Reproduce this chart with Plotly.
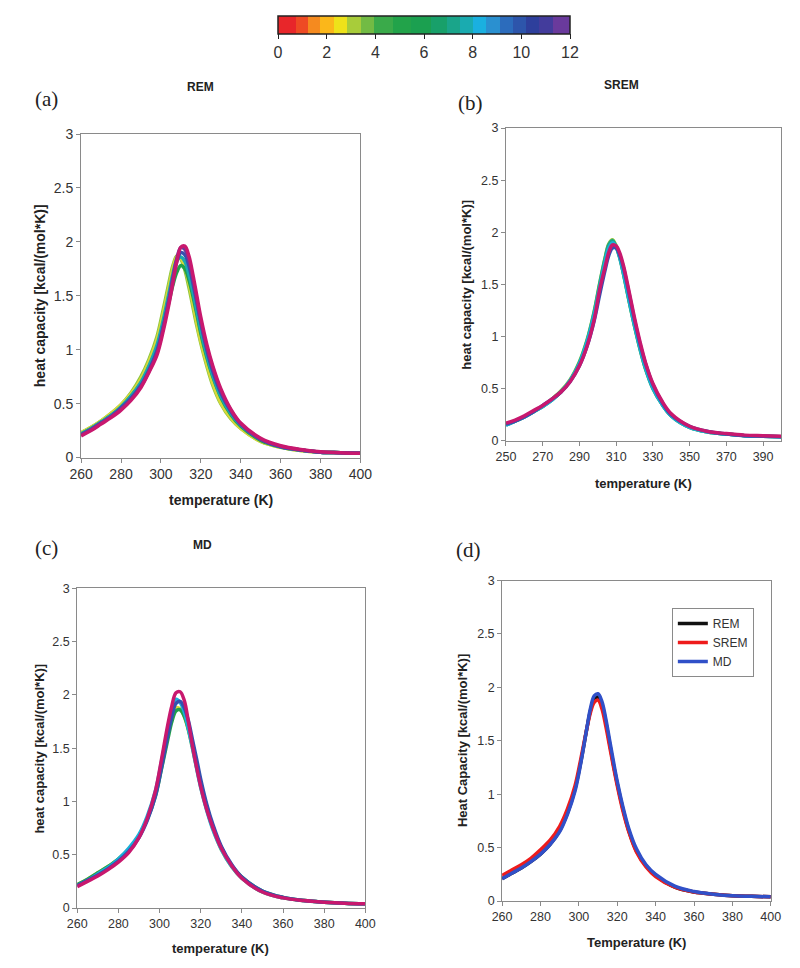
import plotly.graph_objects as go

W, H = 800, 968

# temperature grids (K)
t_grid = [260, 265, 270, 275, 280, 285, 290, 294, 298, 301, 304, 306, 308, 310, 312,
          314, 316, 318, 320, 323, 326, 330, 335, 340, 350, 360, 370, 380, 390, 400]
t_grid_b = [250, 255] + t_grid

# (a) REM replicas
rem_lightgreen = [0.23, 0.28, 0.34, 0.41, 0.49, 0.60, 0.75, 0.91, 1.12, 1.36, 1.62, 1.78, 1.87, 1.84, 1.74,
                  1.58, 1.40, 1.22, 1.06, 0.85, 0.67, 0.50, 0.36, 0.27, 0.15, 0.095, 0.065, 0.05, 0.045, 0.04]
rem_yellow = [0.23, 0.28, 0.34, 0.41, 0.49, 0.59, 0.73, 0.89, 1.09, 1.32, 1.58, 1.75, 1.86, 1.85, 1.77,
              1.62, 1.44, 1.25, 1.08, 0.87, 0.69, 0.51, 0.37, 0.27, 0.15, 0.095, 0.065, 0.05, 0.045, 0.04]
rem_green = [0.22, 0.27, 0.33, 0.39, 0.47, 0.57, 0.69, 0.84, 1.02, 1.22, 1.44, 1.60, 1.72, 1.78, 1.75,
             1.65, 1.50, 1.33, 1.15, 0.93, 0.75, 0.56, 0.40, 0.29, 0.16, 0.10, 0.07, 0.05, 0.045, 0.04]
rem_teal = [0.22, 0.27, 0.33, 0.39, 0.47, 0.57, 0.70, 0.85, 1.04, 1.26, 1.52, 1.70, 1.83, 1.86, 1.82,
            1.70, 1.54, 1.36, 1.18, 0.95, 0.76, 0.57, 0.41, 0.30, 0.17, 0.10, 0.07, 0.05, 0.045, 0.04]
rem_blue = [0.21, 0.26, 0.32, 0.38, 0.46, 0.55, 0.67, 0.81, 0.99, 1.20, 1.46, 1.66, 1.82, 1.90, 1.88,
            1.78, 1.62, 1.44, 1.25, 1.00, 0.80, 0.60, 0.43, 0.31, 0.17, 0.10, 0.07, 0.05, 0.045, 0.04]
rem_purple = [0.21, 0.26, 0.32, 0.38, 0.45, 0.54, 0.66, 0.80, 0.97, 1.19, 1.46, 1.66, 1.85, 1.95, 1.93,
              1.83, 1.66, 1.46, 1.26, 1.02, 0.83, 0.62, 0.44, 0.31, 0.17, 0.105, 0.07, 0.05, 0.045, 0.04]
rem_magenta = [0.20, 0.25, 0.31, 0.37, 0.44, 0.53, 0.65, 0.79, 0.95, 1.16, 1.42, 1.62, 1.82, 1.95, 1.96,
               1.87, 1.70, 1.50, 1.30, 1.05, 0.85, 0.64, 0.45, 0.32, 0.18, 0.11, 0.075, 0.055, 0.045, 0.04]

# (b) SREM replicas
srem_green = [0.16, 0.19, 0.23, 0.28, 0.33, 0.40, 0.48, 0.59, 0.76, 0.96, 1.24, 1.51, 1.76, 1.89, 1.93, 1.87,
              1.76, 1.60, 1.43, 1.26, 1.10, 0.88, 0.69, 0.51, 0.35, 0.24, 0.13, 0.085, 0.065, 0.05, 0.045, 0.04]
srem_teal = [0.15, 0.19, 0.23, 0.28, 0.33, 0.39, 0.47, 0.58, 0.75, 0.95, 1.23, 1.50, 1.75, 1.88, 1.92, 1.86,
             1.75, 1.60, 1.43, 1.26, 1.10, 0.88, 0.69, 0.50, 0.35, 0.24, 0.13, 0.085, 0.065, 0.05, 0.045, 0.04]
srem_cyan = [0.15, 0.19, 0.23, 0.28, 0.33, 0.39, 0.47, 0.58, 0.74, 0.94, 1.21, 1.47, 1.72, 1.85, 1.90, 1.86,
             1.76, 1.61, 1.44, 1.27, 1.11, 0.89, 0.70, 0.51, 0.35, 0.24, 0.13, 0.085, 0.065, 0.05, 0.045, 0.04]
srem_blue = [0.16, 0.19, 0.23, 0.28, 0.34, 0.40, 0.47, 0.57, 0.72, 0.90, 1.15, 1.40, 1.64, 1.78, 1.85, 1.85,
             1.78, 1.66, 1.50, 1.33, 1.16, 0.93, 0.74, 0.54, 0.37, 0.25, 0.14, 0.09, 0.065, 0.05, 0.045, 0.04]
srem_magenta = [0.17, 0.20, 0.24, 0.29, 0.34, 0.40, 0.47, 0.57, 0.72, 0.90, 1.16, 1.45, 1.67, 1.81, 1.88, 1.87,
                1.80, 1.68, 1.52, 1.35, 1.18, 0.95, 0.75, 0.55, 0.38, 0.26, 0.14, 0.09, 0.07, 0.055, 0.05, 0.045]

# (c) MD replicas
md_yellow = [0.22, 0.27, 0.33, 0.39, 0.46, 0.55, 0.68, 0.84, 1.07, 1.34, 1.62, 1.79, 1.88, 1.87, 1.80,
             1.67, 1.50, 1.32, 1.14, 0.92, 0.74, 0.55, 0.39, 0.28, 0.15, 0.095, 0.07, 0.055, 0.045, 0.04]
md_green = [0.22, 0.27, 0.33, 0.39, 0.46, 0.55, 0.68, 0.83, 1.05, 1.31, 1.58, 1.75, 1.85, 1.86, 1.80,
            1.68, 1.52, 1.35, 1.17, 0.95, 0.76, 0.57, 0.40, 0.29, 0.16, 0.10, 0.07, 0.055, 0.045, 0.04]
md_teal = [0.21, 0.26, 0.32, 0.38, 0.46, 0.56, 0.69, 0.86, 1.10, 1.38, 1.68, 1.86, 1.96, 1.93, 1.84,
           1.68, 1.50, 1.31, 1.13, 0.91, 0.73, 0.55, 0.39, 0.28, 0.15, 0.095, 0.07, 0.055, 0.045, 0.04]
md_blue = [0.21, 0.26, 0.31, 0.37, 0.44, 0.53, 0.66, 0.82, 1.05, 1.32, 1.62, 1.80, 1.92, 1.94, 1.88,
           1.76, 1.58, 1.40, 1.21, 0.97, 0.78, 0.58, 0.41, 0.29, 0.16, 0.10, 0.07, 0.055, 0.045, 0.04]
md_magenta = [0.20, 0.25, 0.30, 0.36, 0.43, 0.52, 0.66, 0.84, 1.10, 1.40, 1.72, 1.90, 2.02, 2.03, 1.95,
              1.75, 1.52, 1.32, 1.14, 0.92, 0.75, 0.56, 0.40, 0.28, 0.15, 0.095, 0.07, 0.055, 0.045, 0.04]

# (d) averages
avg_rem = [0.21, 0.26, 0.31, 0.37, 0.44, 0.53, 0.66, 0.82, 1.05, 1.30, 1.60, 1.78, 1.89, 1.91, 1.84,
           1.68, 1.48, 1.28, 1.10, 0.86, 0.66, 0.47, 0.33, 0.24, 0.13, 0.085, 0.065, 0.05, 0.045, 0.04]
avg_srem = [0.24, 0.29, 0.34, 0.40, 0.48, 0.57, 0.70, 0.86, 1.08, 1.33, 1.60, 1.76, 1.86, 1.88, 1.80,
            1.64, 1.45, 1.26, 1.08, 0.84, 0.65, 0.46, 0.32, 0.23, 0.13, 0.085, 0.065, 0.05, 0.045, 0.04]
avg_md = [0.21, 0.26, 0.31, 0.37, 0.44, 0.53, 0.65, 0.81, 1.03, 1.29, 1.60, 1.80, 1.92, 1.94, 1.87,
          1.71, 1.51, 1.31, 1.12, 0.88, 0.68, 0.49, 0.34, 0.25, 0.14, 0.09, 0.065, 0.05, 0.045, 0.04]

# colour bar (replica index 0..12), discrete blocks
cb_edges = [0, 0.76, 1.22, 1.73, 2.31, 2.84, 3.41, 3.94, 4.74, 5.47, 6.27, 6.93, 7.46, 8.0,
            8.53, 9.12, 9.65, 10.19, 10.72, 11.3, 12]
cb_colors = ["#e8262a", "#ee4a24", "#f58a1f", "#fbb71a", "#eee21a", "#a8cc3a", "#72bb44", "#3aaa4a",
             "#22a34a", "#1ba050", "#18a06a", "#1aa58a", "#1aabb0", "#1ab0e0", "#2a90d0", "#2c6cbc",
             "#2d55ab", "#2e3f9c", "#433c9c", "#6a3a9c"]

colorscale = []
for i, c in enumerate(cb_colors):
    colorscale.append([cb_edges[i] / 12, c])
    colorscale.append([cb_edges[i + 1] / 12, c])


def px_x(p):
    return p / W


def px_y(p):
    return 1 - p / H


fig = go.Figure()

panels = [
    ("x", "y", t_grid, [(rem_lightgreen, "#8cc63e"), (rem_yellow, "#d8d83a"), (rem_green, "#20a04a"),
                        (rem_teal, "#1aa8b0"), (rem_blue, "#3550b0"), (rem_purple, "#6a3a9c"),
                        (rem_magenta, "#c8186e")]),
    ("x2", "y2", t_grid_b, [(srem_green, "#8cc63e"), (srem_teal, "#1aa58a"), (srem_cyan, "#1ab0d8"),
                            (srem_blue, "#3550b0"), (srem_magenta, "#c8186e")]),
    ("x3", "y3", t_grid, [(md_yellow, "#d8d83a"), (md_green, "#20a04a"), (md_teal, "#1ab0d8"),
                          (md_blue, "#3550b0"), (md_magenta, "#c8186e")]),
]
for xa, ya, tt, series in panels:
    for vals, col in series:
        fig.add_trace(go.Scatter(x=tt, y=vals, xaxis=xa, yaxis=ya, mode="lines",
                                 line=dict(color=col, width=3.5, shape="spline"),
                                 showlegend=False))

for name, vals, col in [("REM", avg_rem, "#111111"), ("SREM", avg_srem, "#ee1c1c"), ("MD", avg_md, "#3050c8")]:
    fig.add_trace(go.Scatter(x=t_grid, y=vals, xaxis="x4", yaxis="y4", mode="lines", name=name,
                             line=dict(color=col, width=3.5, shape="spline")))

# colour bar carrier (kept off-range)
fig.add_trace(go.Scatter(
    x=[300, 300], y=[-5, -5], xaxis="x", yaxis="y", mode="markers", showlegend=False,
    marker=dict(size=1, opacity=0, color=[0, 12], cmin=0, cmax=12, colorscale=colorscale,
                showscale=True,
                colorbar=dict(orientation="h", x=px_x(416.5), xanchor="center", y=px_y(0), yanchor="top",
                              len=301 / W, lenmode="fraction", thickness=18, thicknessmode="pixels",
                              xpad=0, ypad=0, outlinewidth=1.5, outlinecolor="#222222",
                              tickvals=[0, 2, 4, 6, 8, 10, 12], ticks="outside", ticklen=5,
                              tickcolor="#222222",
                              tickfont=dict(family="Liberation Sans Narrow, Arial Narrow, Liberation Sans",
                                            size=16, color="#333333"))),
))

boxes = {  # left, right, top, bottom in px, tick font size
    "": (63, 351, 120, 449, 14),
    "2": (501, 785, 114, 432, 12.5),
    "3": (59, 356, 582, 907, 12.5),
    "4": (497, 774, 574, 900, 12.5),
}
for k, (l, r, t, b, fs) in boxes.items():
    axis_style = dict(showline=True, linecolor="#8a8a8a", linewidth=1, mirror=True, ticks="outside",
                      ticklen=4, tickcolor="#8a8a8a", showgrid=False, zeroline=False,
                      tickfont=dict(family="Liberation Sans, Arial", size=fs, color="#333333"))
    x_range = [250, 400] if k == "2" else [260, 400]
    x_ticks = list(range(250, 400, 20)) if k == "2" else list(range(260, 401, 20))
    fig.update_layout({
        "xaxis" + k: dict(axis_style, domain=[px_x(l), px_x(r)], range=x_range, tickvals=x_ticks,
                          anchor="y" + k),
        "yaxis" + k: dict(axis_style, domain=[px_y(b), px_y(t)], range=[0, 3],
                          tickvals=[0, 0.5, 1, 1.5, 2, 2.5, 3], ticktext=["0", "0.5", "1", "1.5", "2", "2.5", "3"],
                          anchor="x" + k),
    })

annotations = []
bold = dict(family="Liberation Sans, Arial", size=13, color="#222222")
serif = dict(family="Liberation Serif, Times New Roman", size=21, color="#222222")
for txt, x, y in [("(a)", 27, 84), ("(b)", 464, 88), ("(c)", 27, 541), ("(d)", 462, 543)]:
    annotations.append(dict(text=txt, x=px_x(x), y=px_y(y), xref="paper", yref="paper",
                            showarrow=False, font=serif, xanchor="center", yanchor="middle"))
for txt, x, y in [("<b>REM</b>", 186, 72), ("<b>SREM</b>", 620, 70), ("<b>MD</b>", 188, 538)]:
    annotations.append(dict(text=txt, x=px_x(x), y=px_y(y), xref="paper", yref="paper",
                            showarrow=False, font=dict(bold, size=12), xanchor="center", yanchor="middle"))
for txt, x, y, fs in [("<b>temperature (K)</b>", 207, 492, 14), ("<b>temperature (K)</b>", 643, 475, 13),
                      ("<b>temperature (K)</b>", 207, 948, 13), ("<b>Temperature (K)</b>", 636, 942, 13)]:
    annotations.append(dict(text=txt, x=px_x(x), y=px_y(y), xref="paper", yref="paper",
                            showarrow=False, font=dict(bold, size=fs), xanchor="center", yanchor="middle"))
for txt, x, y, fs in [("<b>heat capacity [kcal/(mol*K)]</b>", 20, 284.5, 14),
                      ("<b>heat capacity [kcal/(mol*K)]</b>", 460, 273, 13),
                      ("<b>heat capacity [kcal/(mol*K)]</b>", 20, 744.5, 13),
                      ("<b>Heat Capacity [kcal/(mol*K)]</b>", 457, 737, 13)]:
    annotations.append(dict(text=txt, x=px_x(x), y=px_y(y), xref="paper", yref="paper", textangle=-90,
                            showarrow=False, font=dict(bold, size=fs), xanchor="center", yanchor="middle"))

fig.update_layout(
    width=W, height=H,
    margin=dict(l=0, r=0, t=0, b=0),
    paper_bgcolor="white", plot_bgcolor="white",
    annotations=annotations,
    showlegend=True,
    legend=dict(x=px_x(672), y=px_y(602), xanchor="left", yanchor="top",
                bordercolor="#8a8a8a", borderwidth=1, bgcolor="white",
                font=dict(family="Liberation Sans, Arial", size=12, color="#333333"),
                itemwidth=30, tracegroupgap=0),
)

fig.write_html("out.html")
